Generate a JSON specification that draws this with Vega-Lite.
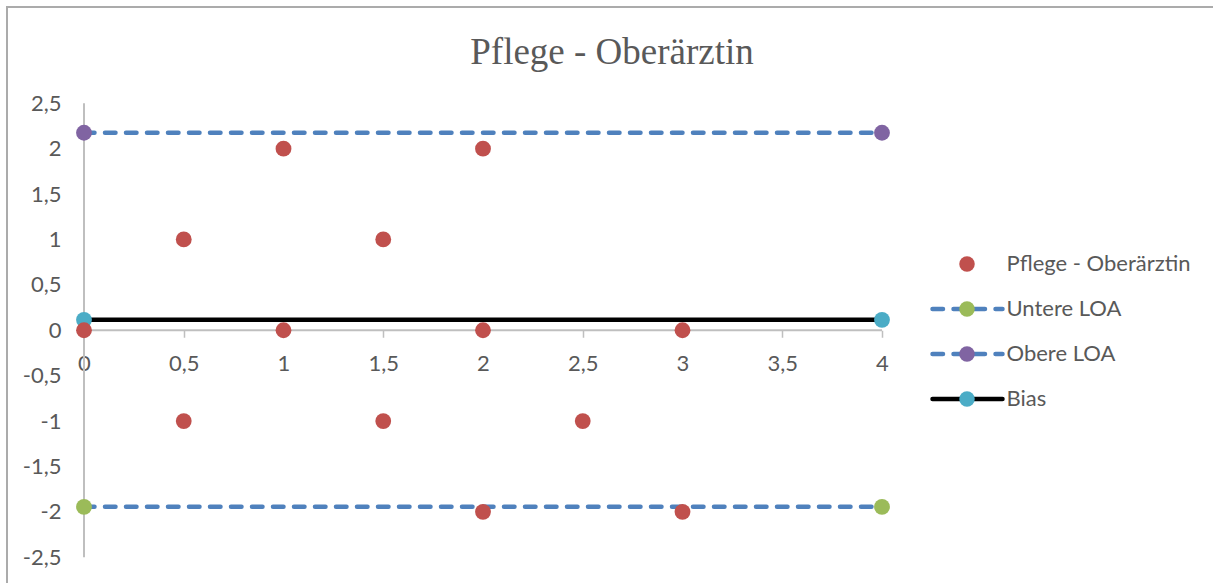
{
  "$schema": "https://vega.github.io/schema/vega-lite/v6.json",
  "width": 1210,
  "height": 583,
  "autosize": {"type": "none"},
  "padding": {"left": 7, "top": 7, "right": 0, "bottom": 0},
  "background": "white",
  "config": {
    "view": {"stroke": "#ababab", "strokeWidth": 2}
  },
  "title": {
    "text": "Pflege - Oberärztin",
    "font": "Liberation Serif",
    "fontSize": 37,
    "fontWeight": "normal",
    "color": "#595959",
    "anchor": "middle",
    "frame": "group",
    "baseline": "alphabetic",
    "offset": -56,
    "dy": 38
  },
  "datasets": {
    "axisLines": [
      {"mean": 0, "mean2": 0, "diff": -2.5, "diff2": 2.5},
      {"mean": 0, "mean2": 4, "diff": 0, "diff2": 0}
    ],
    "limits": [
      {"series": "Untere LOA", "mean": 0, "diff": -1.945},
      {"series": "Untere LOA", "mean": 4, "diff": -1.945},
      {"series": "Obere LOA", "mean": 0, "diff": 2.175},
      {"series": "Obere LOA", "mean": 4, "diff": 2.175},
      {"series": "Bias", "mean": 0, "diff": 0.115},
      {"series": "Bias", "mean": 4, "diff": 0.115}
    ],
    "diffs": [
      {"series": "Pflege - Oberärztin", "mean": 0, "diff": 0},
      {"series": "Pflege - Oberärztin", "mean": 0.5, "diff": 1},
      {"series": "Pflege - Oberärztin", "mean": 0.5, "diff": -1},
      {"series": "Pflege - Oberärztin", "mean": 1, "diff": 2},
      {"series": "Pflege - Oberärztin", "mean": 1, "diff": 0},
      {"series": "Pflege - Oberärztin", "mean": 1.5, "diff": 1},
      {"series": "Pflege - Oberärztin", "mean": 1.5, "diff": -1},
      {"series": "Pflege - Oberärztin", "mean": 2, "diff": 2},
      {"series": "Pflege - Oberärztin", "mean": 2, "diff": 0},
      {"series": "Pflege - Oberärztin", "mean": 2, "diff": -2},
      {"series": "Pflege - Oberärztin", "mean": 2.5, "diff": -1},
      {"series": "Pflege - Oberärztin", "mean": 3, "diff": 0},
      {"series": "Pflege - Oberärztin", "mean": 3, "diff": -2}
    ]
  },
  "encoding": {
    "x": {
      "field": "mean",
      "type": "quantitative",
      "scale": {"domain": [-0.38596, 5.6792], "nice": false, "zero": false},
      "axis": {
        "orient": "bottom",
        "offset": -259.75,
        "values": [0, 0.5, 1, 1.5, 2, 2.5, 3, 3.5, 4],
        "domain": false,
        "grid": false,
        "ticks": true,
        "tickSize": 7,
        "tickColor": "#bfbfbf",
        "tickWidth": 1.5,
        "labelFont": "Lato",
        "labelFontSize": 22,
        "labelColor": "#595959",
        "labelPadding": 16,
        "labelFlush": false,
        "labelOverlap": false,
        "labelExpr": "replace(toString(datum.value), '.', ',')",
        "title": null
      }
    },
    "y": {
      "field": "diff",
      "type": "quantitative",
      "scale": {"domain": [-2.8607, 3.56], "nice": false, "zero": false},
      "axis": {
        "orient": "left",
        "offset": -77,
        "values": [-2.5, -2, -1.5, -1, -0.5, 0, 0.5, 1, 1.5, 2, 2.5],
        "domain": false,
        "grid": false,
        "ticks": false,
        "tickSize": 0,
        "labelFont": "Lato",
        "labelFontSize": 22,
        "labelColor": "#595959",
        "labelPadding": 23,
        "labelFlush": false,
        "labelOverlap": false,
        "labelExpr": "replace(toString(datum.value), '.', ',')",
        "title": null
      }
    }
  },
  "layer": [
    {
      "data": {"name": "axisLines"},
      "mark": {"type": "rule", "color": "#bfbfbf", "strokeWidth": 2},
      "encoding": {
        "x2": {"field": "mean2"},
        "y2": {"field": "diff2"}
      }
    },
    {
      "data": {"name": "limits"},
      "mark": {"type": "line", "strokeWidth": 4.5, "strokeCap": "round"},
      "encoding": {
        "stroke": {
          "field": "series",
          "type": "nominal",
          "scale": {
            "domain": ["Untere LOA", "Obere LOA", "Bias"],
            "range": ["#4f81bd", "#4f81bd", "#000000"]
          },
          "legend": {
            "orient": "none",
            "legendX": 923,
            "legendY": 290,
            "title": null,
            "padding": 0,
            "offset": 0,
            "symbolSize": 4900,
            "symbolStrokeWidth": 4.5,
            "clipHeight": 24,
            "rowPadding": 21,
            "labelFont": "Lato",
            "labelFontSize": 22,
            "labelExpr": "''",
            "encode": {"symbols": {"update": {"strokeCap": {"value": "round"}}}}
          }
        },
        "strokeDash": {
          "field": "series",
          "type": "nominal",
          "scale": {
            "domain": ["Untere LOA", "Obere LOA", "Bias"],
            "range": [[10.5, 10.5], [10.5, 10.5], [1, 0]]
          }
        }
      }
    },
    {
      "data": {"name": "limits"},
      "mark": {"type": "point", "filled": true, "size": 250, "opacity": 1},
      "encoding": {
        "fill": {
          "field": "series",
          "type": "nominal",
          "scale": {
            "domain": ["Pflege - Oberärztin", "Untere LOA", "Obere LOA", "Bias"],
            "range": ["#c0504d", "#9bbb59", "#8064a2", "#4bacc6"]
          },
          "legend": {
            "orient": "none",
            "legendX": 949,
            "legendY": 245,
            "title": null,
            "padding": 0,
            "offset": 0,
            "symbolType": "circle",
            "symbolSize": 240,
            "symbolStrokeWidth": 0,
            "symbolOpacity": 1,
            "clipHeight": 24,
            "rowPadding": 21,
            "labelFont": "Lato",
            "labelFontSize": 22,
            "labelColor": "#595959",
            "labelLimit": 320,
            "labelOffset": 28.5
          }
        }
      }
    },
    {
      "data": {"name": "diffs"},
      "mark": {"type": "point", "filled": true, "size": 250, "opacity": 1},
      "encoding": {
        "fill": {
          "field": "series",
          "type": "nominal",
          "scale": {
            "domain": ["Pflege - Oberärztin", "Untere LOA", "Obere LOA", "Bias"],
            "range": ["#c0504d", "#9bbb59", "#8064a2", "#4bacc6"]
          }
        }
      }
    }
  ]
}
